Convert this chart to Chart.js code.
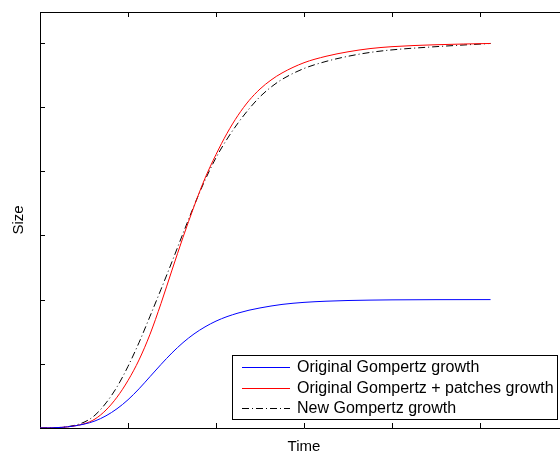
<!DOCTYPE html>
<html>
<head>
<meta charset="utf-8">
<title>Gompertz growth</title>
<script src="https://cdn.jsdelivr.net/npm/chart.js@4.4.1/dist/chart.umd.min.js"></script>
<style>
  html, body { margin: 0; padding: 0; background: #fff; overflow: hidden; }
  #wrap { width: 560px; height: 458px; overflow: hidden; position: relative; }
  canvas { display: block; }
</style>
</head>
<body>
<div id="wrap"><canvas id="growth" width="600" height="458"></canvas></div>
<script>
// Sample times shared by all three curves
const time = [0, 0.25, 0.5, 0.625, 0.75, 0.875, 1.0, 1.125, 1.25, 1.375, 1.5, 1.625,
              1.75, 1.875, 2.0, 2.125, 2.25, 2.375, 2.5, 2.625, 2.75, 3.0, 3.25, 3.5,
              3.75, 4.0, 4.5, 5.12];

// Size values of each model at those times
const originalGrowth = [0, 0.01, 0.06, 0.11, 0.19, 0.30, 0.44, 0.61, 0.80, 0.99, 1.17, 1.33,
                        1.465, 1.575, 1.665, 1.735, 1.79, 1.835, 1.87, 1.90, 1.925, 1.957, 1.975, 1.986,
                        1.992, 1.996, 1.999, 2.0];
const patchesGrowth  = [0, 0.01, 0.065, 0.14, 0.28, 0.48, 0.74, 1.06, 1.46, 1.94, 2.46, 2.97,
                        3.45, 3.89, 4.26, 4.59, 4.87, 5.10, 5.28, 5.42, 5.53, 5.69, 5.79, 5.86,
                        5.91, 5.94, 5.97, 5.99];
const newGrowth      = [0, 0.01, 0.09, 0.20, 0.39, 0.64, 0.96, 1.33, 1.74, 2.16, 2.59, 3.03,
                        3.46, 3.86, 4.21, 4.50, 4.75, 4.97, 5.16, 5.31, 5.43, 5.60, 5.71, 5.79,
                        5.85, 5.89, 5.94, 5.99];

const seriesLabels = ['Original Gompertz growth', 'Original Gompertz + patches growth', 'New Gompertz growth'];
const xTitle = 'Time';
const yTitle = 'Size';

const FONT = '"Liberation Sans", Arial, Helvetica, sans-serif';

function points(values) {
  return time.map((t, i) => ({ x: t, y: values[i] }));
}

// Axes box with inward-pointing tick marks, plus axis titles
const axesBox = {
  id: 'axesBox',
  beforeDatasetsDraw(chart) {
    const { ctx, chartArea: a, scales: { x, y } } = chart;
    ctx.save();
    ctx.strokeStyle = '#000';
    ctx.lineWidth = 1;
    ctx.beginPath();
    ctx.rect(Math.round(a.left) + 0.5, Math.round(a.top) + 0.5,
             Math.round(a.right - a.left), Math.round(a.bottom - a.top));
    const len = 5;
    x.ticks.forEach(t => {
      const px = Math.round(x.getPixelForValue(t.value)) + 0.5;
      ctx.moveTo(px, a.bottom); ctx.lineTo(px, a.bottom - len);
      ctx.moveTo(px, a.top); ctx.lineTo(px, a.top + len);
    });
    y.ticks.forEach(t => {
      const py = Math.round(y.getPixelForValue(t.value)) + 0.5;
      ctx.moveTo(a.left, py); ctx.lineTo(a.left + len, py);
      ctx.moveTo(a.right, py); ctx.lineTo(a.right - len, py);
    });
    ctx.stroke();

    ctx.fillStyle = '#000';
    ctx.font = '15px ' + FONT;
    ctx.textAlign = 'center';
    ctx.textBaseline = 'middle';
    ctx.fillText(xTitle, (a.left + a.right) / 2, a.bottom + 19);
    ctx.translate(a.left - 21, (a.top + a.bottom) / 2);
    ctx.rotate(-Math.PI / 2);
    ctx.fillText(yTitle, 0, 0);
    ctx.restore();
  }
};

// Boxed legend in the lower right of the axes
const boxLegend = {
  id: 'boxLegend',
  afterDatasetsDraw(chart) {
    const { ctx } = chart;
    const left = 232, top = 355, right = 557, bottom = 419;
    ctx.save();
    ctx.fillStyle = '#fff';
    ctx.fillRect(left, top, right - left, bottom - top);
    ctx.strokeStyle = '#000';
    ctx.lineWidth = 1;
    ctx.strokeRect(left + 0.5, top + 0.5, right - left, bottom - top);
    ctx.font = '16px ' + FONT;
    ctx.textAlign = 'left';
    ctx.textBaseline = 'middle';
    chart.data.datasets.forEach((ds, i) => {
      const cy = Math.round(top + 12 + i * 20.7) + 0.5;
      ctx.strokeStyle = ds.borderColor;
      ctx.setLineDash(ds.borderDash || []);
      ctx.beginPath();
      ctx.moveTo(242, cy);
      ctx.lineTo(290, cy);
      ctx.stroke();
      ctx.setLineDash([]);
      ctx.fillStyle = '#000';
      ctx.fillText(ds.label, 297, cy + 0.5);
    });
    ctx.restore();
  }
};

new Chart(document.getElementById('growth'), {
  type: 'line',
  data: {
    datasets: [
      { label: seriesLabels[0], data: points(originalGrowth), borderColor: '#0000ff' },
      { label: seriesLabels[1], data: points(patchesGrowth), borderColor: '#ff0000' },
      { label: seriesLabels[2], data: points(newGrowth), borderColor: '#000000', borderDash: [7, 3, 1, 3] }
    ].map(d => Object.assign({
      borderWidth: 1,
      pointRadius: 0,
      fill: false,
      cubicInterpolationMode: 'monotone'
    }, d))
  },
  options: {
    responsive: false,
    animation: false,
    devicePixelRatio: 1,
    layout: { padding: { left: 40, top: 12, right: 32, bottom: 30 } },
    plugins: { legend: { display: false }, tooltip: { enabled: false } },
    scales: {
      x: { type: 'linear', display: false, min: 0, max: 6, ticks: { stepSize: 1 } },
      y: { type: 'linear', display: false, min: 0, max: 6.48, ticks: { stepSize: 1 } }
    }
  },
  plugins: [axesBox, boxLegend]
});
</script>
</body>
</html>
